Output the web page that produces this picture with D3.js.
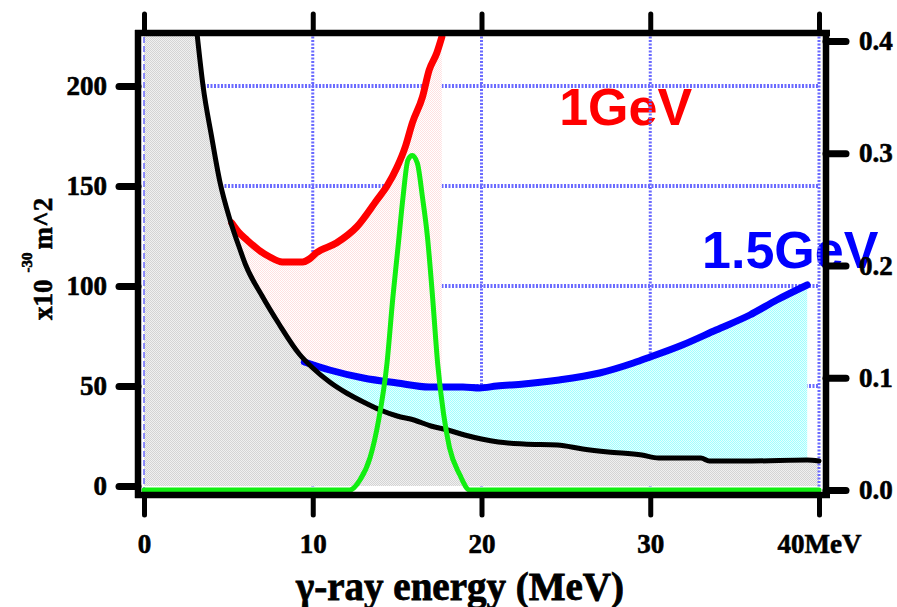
<!DOCTYPE html>
<html>
<head>
<meta charset="utf-8">
<script src="https://cdn.jsdelivr.net/npm/d3@7"></script>
<style>
body { margin: 0; background: #fff; }
</style>
</head>
<body>
<div id="chart"></div>
<script>
/** Values */
// black curve (left axis), background
var bgEnergy = [3.14, 3.5, 4.0, 4.5, 5.1, 5.7, 6.0, 7.0, 8.0, 9.2, 10, 11, 12, 13, 14, 15, 16, 17, 18, 19, 20, 21, 22.5, 24.5, 26, 27.5, 29.5, 30.5, 33, 33.5, 36, 39.3, 40];
var bgValue = [226.5, 200, 175, 152, 133, 118, 111, 95, 81, 66, 59, 52, 46.5, 42, 38, 35, 33, 30, 28, 25.5, 23.5, 22, 21, 20.5, 18.5, 17, 15.5, 14, 14, 12.5, 12.5, 13, 12.5];

// red curve, 1 GeV
var e1Energy = [5.2, 5.6, 6.1, 6.8, 7.46, 8.2, 9.4, 9.8, 10.2, 11.4, 12.6, 13.8, 14.4, 15.0, 15.5, 15.9, 16.5, 16.9, 17.35, 17.65];
var e1Value = [131.5, 127, 123, 118, 114.5, 112, 112, 113.5, 116.5, 121.5, 129.5, 143, 150, 159.5, 170, 181.5, 194.5, 208, 216.5, 224.5];

// blue curve, 1.5 GeV
var e15Energy = [9.5, 11.0, 13.0, 15.0, 16.9, 18.9, 19.9, 20.9, 22.5, 24.6, 27.0, 29.0, 30.0, 31.9, 33.9, 35.9, 37.5, 39.3];
var e15Value = [62, 58, 54, 51.5, 49.5, 49.5, 49, 50, 51, 53, 56.5, 61.5, 64.5, 70.5, 78, 85.5, 93, 100.5];

// green peak (right axis)
var peakEnergy = [0, 12.2, 12.8, 13.4, 13.9, 14.4, 14.75, 15.05, 15.35, 15.64, 15.9, 16.2, 16.5, 16.8, 17.1, 17.4, 17.75, 18.1, 18.7, 19.3, 40];
var peakValue = [0, 0, 0.009, 0.029, 0.062, 0.113, 0.172, 0.216, 0.261, 0.294, 0.298, 0.291, 0.261, 0.225, 0.172, 0.113, 0.068, 0.038, 0.014, 0, 0];

var xTicks = [0, 10, 20, 30, 40];
var yTicks = [0, 50, 100, 150, 200];
var y2Ticks = [0, 0.1, 0.2, 0.3, 0.4];
var gridX = [10, 20, 30];
var gridY = [50, 100, 150, 200];

var labels = [
    { text: "1GeV", color: "#ff0000", energy: 24.6, value: 180.5 },
    { text: "1.5GeV", color: "#0000ff", energy: 33.07, value: 109 }
];

function zip(xs, ys) {
    return xs.map(function (d, i) { return { e: d, v: ys[i] }; });
}

/** SVG */
var width = 897,
    height = 607;

var svg = d3.select("#chart")
    .append("svg")
    .attr("width", width)
    .attr("height", height);

var serif = "'Liberation Serif', 'Times New Roman', serif";
var sans = "'Liberation Sans', Arial, sans-serif";

var x = d3.scaleLinear().domain([0, 40]).range([144, 819]);
var y = d3.scaleLinear().domain([0, 226.5]).range([486, 33]);
var y2 = d3.scaleLinear().domain([0, 0.4]).range([490, 41]);

// stippled fills
var defs = svg.append("defs");
function stipple(id, a, b) {
    var p = defs.append("pattern")
        .attr("id", id)
        .attr("patternUnits", "userSpaceOnUse")
        .attr("width", 2)
        .attr("height", 2);
    p.append("rect").attr("width", 2).attr("height", 2).attr("fill", b);
    p.append("rect").attr("width", 1).attr("height", 1).attr("fill", a);
    p.append("rect").attr("x", 1).attr("y", 1).attr("width", 1).attr("height", 1).attr("fill", a);
}
stipple("grayFill", "#d4d4d4", "#f0f0f0");
stipple("pinkFill", "#ffe0e0", "#ffffff");
stipple("cyanFill", "#a0ffff", "#e6ffff");

// energy labels (under the grid)
svg.selectAll("text.energy")
    .data(labels)
    .enter()
    .append("text")
    .attr("class", "energy")
    .attr("x", function (d) { return x(d.energy); })
    .attr("y", function (d) { return y(d.value); })
    .attr("fill", function (d) { return d.color; })
    .attr("font-family", sans)
    .attr("font-weight", "bold")
    .attr("font-size", 52)
    .text(function (d) { return d.text; });

// grid
var gridColor = "#6a6aff";
svg.selectAll("line.gridy")
    .data(gridY)
    .enter()
    .append("line")
    .attr("x1", x(0))
    .attr("x2", x(40))
    .attr("y1", function (d) { return y(d); })
    .attr("y2", function (d) { return y(d); })
    .attr("stroke", gridColor)
    .attr("stroke-width", 4)
    .attr("stroke-dasharray", "2,1.5");

svg.selectAll("line.gridx")
    .data(gridX)
    .enter()
    .append("line")
    .attr("x1", function (d) { return x(d); })
    .attr("x2", function (d) { return x(d); })
    .attr("y1", y.range()[1])
    .attr("y2", y2(0))
    .attr("stroke", gridColor)
    .attr("stroke-width", 3)
    .attr("stroke-dasharray", "2,1.5");

// fills
var area = d3.area()
    .curve(d3.curveMonotoneX)
    .x(function (d) { return x(d.e); })
    .y0(y(0))
    .y1(function (d) { return y(d.v); });

svg.append("path")
    .datum(zip(e1Energy, e1Value))
    .attr("d", area)
    .attr("fill", "url(#pinkFill)");

svg.append("path")
    .datum(zip(e15Energy, e15Value))
    .attr("d", area)
    .attr("fill", "url(#cyanFill)");

svg.append("path")
    .datum([{ e: 0, v: y.domain()[1] }].concat(zip(bgEnergy, bgValue)))
    .attr("d", area)
    .attr("fill", "url(#grayFill)");

// border grid lines at 0 and 40
svg.append("line")
    .attr("x1", x(0)).attr("x2", x(0))
    .attr("y1", y.range()[1] + 4).attr("y2", y2(0))
    .attr("stroke", gridColor)
    .attr("stroke-width", 1.5)
    .attr("stroke-dasharray", "6,3");

svg.append("line")
    .attr("x1", x(40)).attr("x2", x(40))
    .attr("y1", y.range()[1]).attr("y2", y2(0))
    .attr("stroke", gridColor)
    .attr("stroke-width", 3)
    .attr("stroke-dasharray", "2,1.5");

// curves
var line = d3.line()
    .curve(d3.curveMonotoneX)
    .x(function (d) { return x(d.e); })
    .y(function (d) { return y(d.v); });

var line2 = d3.line()
    .curve(d3.curveMonotoneX)
    .x(function (d) { return x(d.e); })
    .y(function (d) { return y2(d.v); });

function curve(data, gen, color, w) {
    svg.append("path")
        .datum(data)
        .attr("d", gen)
        .attr("fill", "none")
        .attr("stroke", color)
        .attr("stroke-width", w)
        .attr("stroke-linejoin", "round")
        .attr("stroke-linecap", "round");
}
curve(zip(e1Energy, e1Value), line, "#ff0000", 7);
curve(zip(e15Energy, e15Value), line, "#0000ff", 7);
curve(zip(bgEnergy, bgValue), line, "#000000", 5);
curve(zip(peakEnergy, peakValue), line2, "#11ee11", 5);

// frame
var frame = [
    [138, 30, 138, 498],
    [135, 33, 830, 33],
    [135, 495, 830, 495],
    [826, 30, 826, 498]
];
svg.selectAll("line.frame")
    .data(frame)
    .enter()
    .append("line")
    .attr("x1", function (d) { return d[0]; })
    .attr("y1", function (d) { return d[1]; })
    .attr("x2", function (d) { return d[2]; })
    .attr("y2", function (d) { return d[3]; })
    .attr("stroke", "#000")
    .attr("stroke-width", 6.5);

// axes
function styleAxis(g, w) {
    g.select(".domain").remove();
    g.selectAll(".tick line")
        .attr("stroke", "#000")
        .attr("stroke-width", w)
        .attr("stroke-linecap", "round");
    g.selectAll(".tick text")
        .attr("fill", "#000")
        .attr("stroke", "#000")
        .attr("stroke-width", 0.6)
        .attr("font-family", serif)
        .attr("font-weight", "bold")
        .attr("font-size", 27);
}

svg.append("g")
    .attr("transform", "translate(138,0)")
    .call(d3.axisLeft(y).tickValues(yTicks).tickSize(19).tickPadding(12))
    .call(styleAxis, 7);

svg.append("g")
    .attr("transform", "translate(826,0)")
    .call(d3.axisRight(y2).tickValues(y2Ticks).tickSize(20).tickPadding(13).tickFormat(d3.format(".1f")))
    .call(styleAxis, 7);

svg.append("g")
    .attr("transform", "translate(0,495)")
    .call(d3.axisBottom(x).tickValues(xTicks).tickSize(20).tickPadding(19)
        .tickFormat(function (d) { return d === 40 ? "40MeV" : d; }))
    .call(styleAxis, 5);

svg.append("g")
    .attr("transform", "translate(0,33)")
    .call(d3.axisTop(x).tickValues(xTicks).tickSize(19).tickFormat(""))
    .call(styleAxis, 5);

// axis titles
svg.append("text")
    .attr("x", 460)
    .attr("y", 600)
    .attr("text-anchor", "middle")
    .attr("font-family", serif)
    .attr("font-weight", "bold")
    .attr("font-size", 39)
    .attr("stroke", "#000")
    .attr("stroke-width", 0.8)
    .text("γ-ray energy (MeV)");

var ylab = svg.append("text")
    .attr("transform", "translate(52,320) rotate(-90)")
    .attr("font-family", serif)
    .attr("font-weight", "bold")
    .attr("font-size", 27)
    .attr("stroke", "#000")
    .attr("stroke-width", 0.6);
ylab.append("tspan").text("x10");
ylab.append("tspan").attr("dx", 7).attr("dy", -20).attr("font-size", 15).text("-30");
ylab.append("tspan").attr("dx", 3).attr("dy", 20).text("m^2");
</script>
</body>
</html>
